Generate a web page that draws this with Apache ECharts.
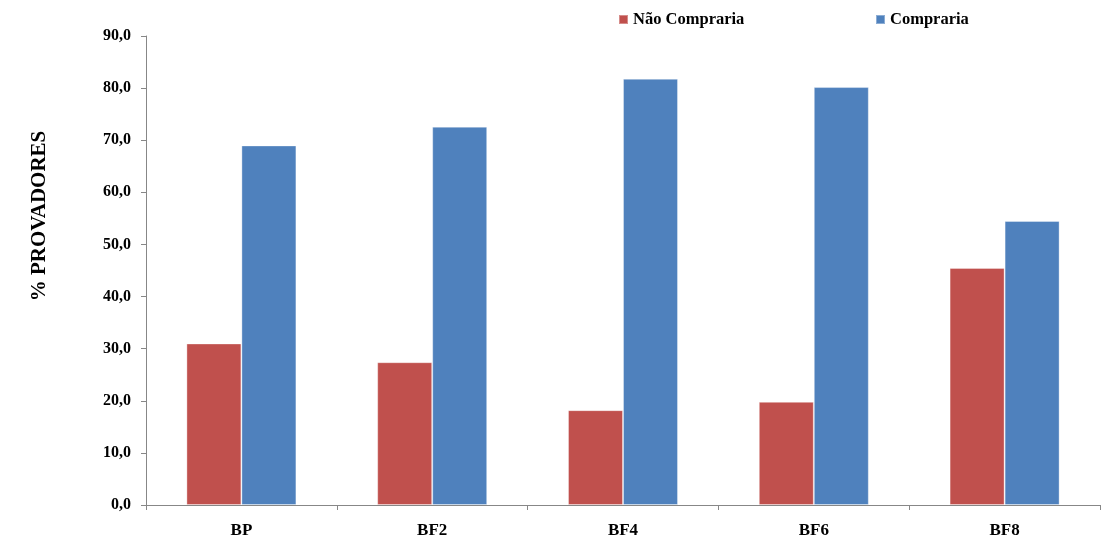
<!DOCTYPE html>
<html>
<head>
<meta charset="utf-8">
<script src="https://cdn.jsdelivr.net/npm/echarts@6/dist/echarts.min.js"></script>
<style>html,body{margin:0;padding:0;background:#fff}#c{width:1101px;height:546px}</style>
</head>
<body>
<div id="c"></div>
<script>
const categories = ['BP', 'BF2', 'BF4', 'BF6', 'BF8'];
const naoComprariaValues = [31.0, 27.4, 18.2, 19.8, 45.5];
const comprariaValues = [69.0, 72.6, 81.8, 80.2, 54.5];
const seriesNames = ['Não Compraria', 'Compraria'];
const yAxisTitle = '% PROVADORES';

const FONT = '"Liberation Serif", "Times New Roman", serif';
const chart = echarts.init(document.getElementById('c'), null, {renderer: 'canvas'});
const axisColor = '#878787';
chart.setOption({
  animation: false,
  backgroundColor: '#ffffff',
  grid: {left: 146, right: 1, top: 36, bottom: 41, containLabel: false},
  legend: [
    {data: [seriesNames[0]], left: 613, top: 6, icon: 'rect', itemWidth: 9, itemHeight: 9, itemGap: 4,
     textStyle: {fontFamily: FONT, fontWeight: 'bold', fontSize: 16.5, color: '#000', padding: [0, 0, 0, 0]}},
    {data: [seriesNames[1]], left: 870, top: 6, icon: 'rect', itemWidth: 9, itemHeight: 9, itemGap: 4,
     textStyle: {fontFamily: FONT, fontWeight: 'bold', fontSize: 16.5, color: '#000', padding: [0, 0, 0, 0]}}
  ],
  xAxis: {
    type: 'category',
    data: categories,
    axisLine: {lineStyle: {color: axisColor, width: 1}},
    axisTick: {show: true, length: 5, lineStyle: {color: axisColor}},
    axisLabel: {fontFamily: FONT, fontWeight: 'bold', fontSize: 17, color: '#000', margin: 17}
  },
  yAxis: {
    type: 'value',
    min: 0, max: 90, interval: 10,
    axisLine: {show: true, lineStyle: {color: axisColor, width: 1}},
    axisTick: {show: true, length: 5, lineStyle: {color: axisColor}},
    splitLine: {show: false},
    axisLabel: {fontFamily: FONT, fontWeight: 'bold', fontSize: 16, color: '#000', margin: 15,
      formatter: v => v.toFixed(1).replace('.', ',')}
  },
  graphic: [{
    type: 'text',
    x: 40, y: 216, rotation: Math.PI / 2,
    style: {text: yAxisTitle, fontFamily: FONT, fontWeight: 'bold', fontSize: 21, fill: '#000',
      textAlign: 'center', textVerticalAlign: 'middle'}
  }],
  series: [
    {name: seriesNames[0], type: 'bar', data: naoComprariaValues, barWidth: 55, barGap: '0%',
     itemStyle: {color: '#C0504D', borderColor: 'rgba(255,255,255,0.35)', borderWidth: 1}},
    {name: seriesNames[1], type: 'bar', data: comprariaValues, barWidth: 55, barGap: '0%',
     itemStyle: {color: '#4F81BD', borderColor: 'rgba(255,255,255,0.35)', borderWidth: 1}}
  ]
});
</script>
</body>
</html>
